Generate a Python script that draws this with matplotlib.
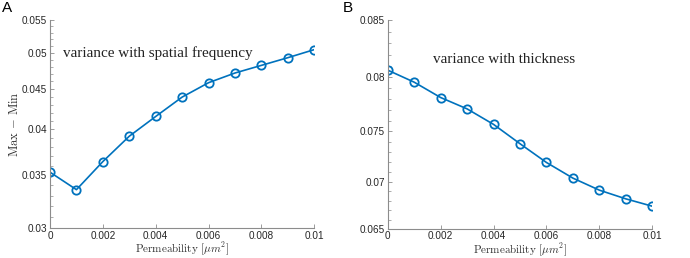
import numpy as np
import matplotlib.pyplot as plt
from matplotlib.ticker import FixedLocator, FixedFormatter, NullFormatter

plt.rcParams['mathtext.fontset'] = 'cm'

# данные
perm = [0, 0.001, 0.002, 0.003, 0.004, 0.005, 0.006, 0.007, 0.008, 0.009, 0.01]
spatial = [0.03532, 0.03357, 0.03643, 0.03922, 0.04154, 0.04395,
           0.04583, 0.04714, 0.04820, 0.04929, 0.05046]
thick = [0.08065, 0.07957, 0.07817, 0.07712, 0.07566, 0.07380,
         0.07195, 0.07037, 0.06913, 0.06822, 0.06744]

xticks = [0, 0.002, 0.004, 0.006, 0.008, 0.01]
xlabels = ['0', '0.002', '0.004', '0.006', '0.008', '0.01']
yticks_a = [0.03, 0.035, 0.04, 0.045, 0.05, 0.055]
ylabels_a = ['0.03', '0.035', '0.04', '0.045', '0.05', '0.055']
yticks_b = [0.065, 0.07, 0.075, 0.08, 0.085]
ylabels_b = ['0.065', '0.07', '0.075', '0.08', '0.085']

blue = '#0072BD'
axcol = '#8c8c8c'
txtcol = '#262626'

fig = plt.figure(figsize=(6.9, 2.58), dpi=100)
ax1 = fig.add_axes([50 / 690, 29.7 / 258, 264.3 / 690, 208.3 / 258])
ax2 = fig.add_axes([387.7 / 690, 29.3 / 258, 264.6 / 690, 208.7 / 258])

ax1.set_yscale('log')
ax2.set_yscale('function', functions=(lambda v: v ** 2, lambda v: np.sqrt(np.abs(v))))

ax1.plot(perm, spatial, '-o', color=blue, lw=1.2, ms=6, mfc='none', mew=1.3)
ax2.plot(perm, thick, '-o', color=blue, lw=1.2, ms=6, mfc='none', mew=1.3)

for ax, yt, yl, lo, hi in [(ax1, yticks_a, ylabels_a, 0.03, 0.055),
                           (ax2, yticks_b, ylabels_b, 0.065, 0.085)]:
    ax.set_xlim(0, 0.01)
    ax.set_ylim(lo, hi)
    ax.xaxis.set_major_locator(FixedLocator(xticks))
    ax.xaxis.set_major_formatter(FixedFormatter(xlabels))
    ax.yaxis.set_major_locator(FixedLocator(yt))
    ax.yaxis.set_major_formatter(FixedFormatter(yl))
    ax.yaxis.set_minor_locator(FixedLocator(np.arange(lo, hi + 1e-9, 0.001)))
    ax.yaxis.set_minor_formatter(NullFormatter())
    ax.xaxis.set_minor_locator(FixedLocator([]))
    for s in ['top', 'right']:
        ax.spines[s].set_visible(False)
    for s in ['left', 'bottom']:
        ax.spines[s].set_color(axcol)
        ax.spines[s].set_linewidth(0.8)
    ax.tick_params(which='both', direction='in', color=axcol, labelcolor=txtcol,
                   labelsize=7.2, labelfontfamily='Liberation Sans')
    ax.tick_params(which='major', length=3, width=0.6, pad=2)
    ax.tick_params(which='minor', length=1.8, width=0.5)
    ax.set_xlabel(r'$\mathrm{Permeability}\ [\mu m^2]$', fontsize=8, color='#333333', labelpad=0)

ax1.set_ylabel(r'$\mathrm{Max}\,-\,\mathrm{Min}$', fontsize=9, color='#333333')
ax1.yaxis.set_label_coords(-0.11, 0.5)

ax1.text(0.0005, 0.05, 'variance with spatial frequency', family='Liberation Serif',
         fontsize=10.9, color='#222222', va='center')
ax2.text(0.0017, 0.0816, 'variance with thickness', family='Liberation Serif',
         fontsize=10.9, color='#222222', va='center')

fig.text(2 / 690, 1 - 1 / 258, 'A', fontsize=11, family='Liberation Sans', va='top')
fig.text(343 / 690, 1 - 1 / 258, 'B', fontsize=11, family='Liberation Sans', va='top')

fig.savefig('out.png', dpi=100)
